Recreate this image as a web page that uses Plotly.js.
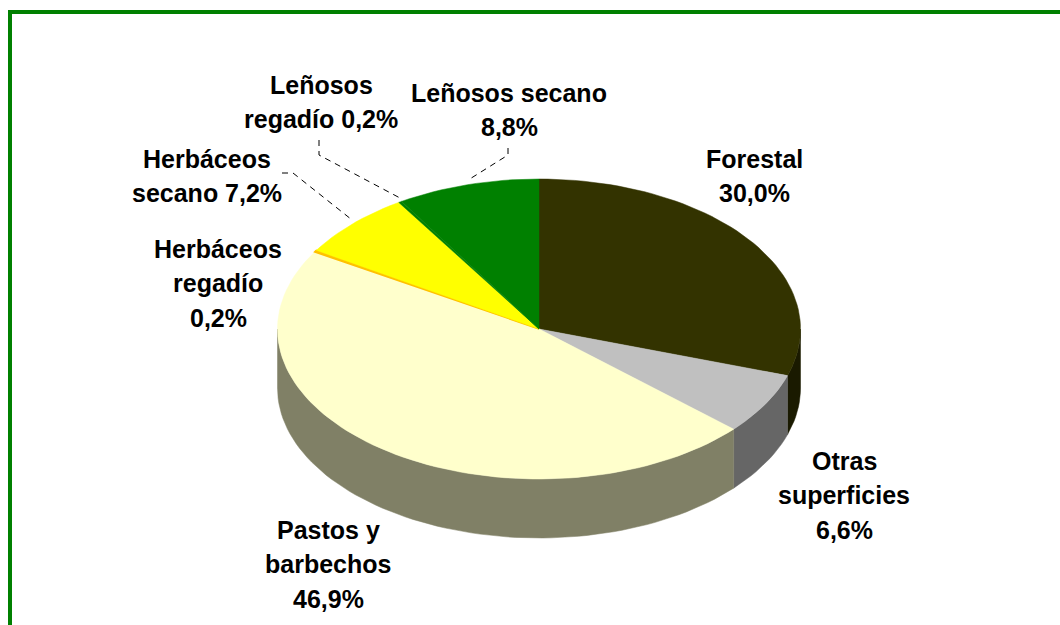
<!DOCTYPE html>
<html><head><meta charset="utf-8">
<script src="https://cdn.plot.ly/plotly-3.0.1.min.js"></script>
<style>html,body{margin:0;padding:0;background:#fff}#c{width:1060px;height:625px}</style>
</head><body><div id="c"></div>
<script>
// Data
const categories = ["Forestal","Otras superficies","Pastos y barbechos","Herbáceos regadío","Herbáceos secano","Leñosos regadío","Leñosos secano"];
const shares = [30.0,6.6,46.9,0.2,7.2,0.2,8.8];
const topColors = ["#333300","#C0C0C0","#FFFFCC","#FFC000","#FFFF00","#008000","#008000"];
const sideColors = ["#1A1A00","#666666","#808066","#806000","#808000","#004000","#004000"];
// Label lines per category
const labelLines = [["Forestal","30,0%"],["Otras","superficies","6,6%"],["Pastos y","barbechos","46,9%"],["Herbáceos","regadío","0,2%"],["Herbáceos","secano 7,2%"],["Leñosos","regadío 0,2%"],["Leñosos secano","8,8%"]];

// Pie geometry
const cx=539, cy=329, rx=261.5, ry=150, depth=59;
const labelX=[754,844,328,218,207,321,509];
const labelY=[158.5,461,530,249,158.5,85,93];
const lineGap=34.3;
const fontSize=25;
// Leader elbows: slice index -> elbow points
const leaders={4:[[282,173],[293,173]],5:[[319,140],[319,155]],6:[[508,148],[508,155]]};

const total=shares.reduce((a,b)=>a+b,0);
const px=a=>cx+rx*Math.sin(a), py=a=>cy-ry*Math.cos(a);
let cum=0;
const slices=shares.map(v=>{const s=cum/total*2*Math.PI;cum+=v;return {s,e:cum/total*2*Math.PI};});
const arc=(s,e)=>{const n=Math.max(2,Math.ceil((e-s)/(2*Math.PI/180)));const o=[];for(let i=0;i<=n;i++)o.push(s+(e-s)*i/n);return o;};
const traces=[];
// side walls (only the front half of the rim is visible)
slices.forEach((sl,i)=>{
  const s=Math.max(sl.s,Math.PI/2), e=Math.min(sl.e,1.5*Math.PI);
  if(e<=s) return;
  const a=arc(s,e);
  const x=a.map(px).concat(a.slice().reverse().map(px));
  const y=a.map(py).concat(a.slice().reverse().map(t=>py(t)+depth));
  traces.push({type:"scatter",mode:"lines",x:x.concat([x[0]]),y:y.concat([y[0]]),fill:"toself",fillcolor:sideColors[i],line:{color:sideColors[i],width:0.5},hoverinfo:"skip",showlegend:false});
});
// top faces
slices.forEach((sl,i)=>{
  const a=arc(sl.s,sl.e);
  const x=[cx].concat(a.map(px),[cx]), y=[cy].concat(a.map(py),[cy]);
  traces.push({type:"scatter",mode:"lines",name:categories[i],x,y,fill:"toself",fillcolor:topColors[i],line:{color:topColors[i],width:i===3?1.5:0.5},hoverinfo:"name",showlegend:false});
});
// leaders
Object.keys(leaders).forEach(k=>{
  const sl=slices[k], m=(sl.s+sl.e)/2;
  const pts=leaders[k];
  traces.push({type:"scatter",mode:"lines",x:pts.map(p=>p[0]).concat([cx+rx*1.0*Math.sin(m)]),y:pts.map(p=>p[1]).concat([cy-ry*1.03*Math.cos(m)]),line:{color:"#000",width:1,dash:"6px,5px"},hoverinfo:"skip",showlegend:false});
});
const annotations=[];
labelLines.forEach((lines,i)=>lines.forEach((t,j)=>annotations.push({x:labelX[i],y:labelY[i]+j*lineGap,xref:"x",yref:"y",text:"<b>"+t+"</b>",showarrow:false,xanchor:"center",yanchor:"middle",font:{family:"Liberation Sans, Arial, sans-serif",size:fontSize,color:"#000"}})));
const G="#008000";
const layout={width:1060,height:625,margin:{l:0,r:0,t:0,b:0},paper_bgcolor:"#fff",plot_bgcolor:"#fff",
 xaxis:{range:[0,1060],visible:false,fixedrange:true},yaxis:{range:[625,0],visible:false,fixedrange:true},
 showlegend:false,annotations,
 shapes:[
  {type:"line",xref:"x",yref:"y",x0:10,x1:10,y0:10,y1:625,line:{color:G,width:4}},
  {type:"line",xref:"x",yref:"y",x0:8,x1:1060,y0:12,y1:12,line:{color:G,width:4}}
 ]};
Plotly.newPlot("c",traces,layout,{displayModeBar:false,staticPlot:true});
</script></body></html>
